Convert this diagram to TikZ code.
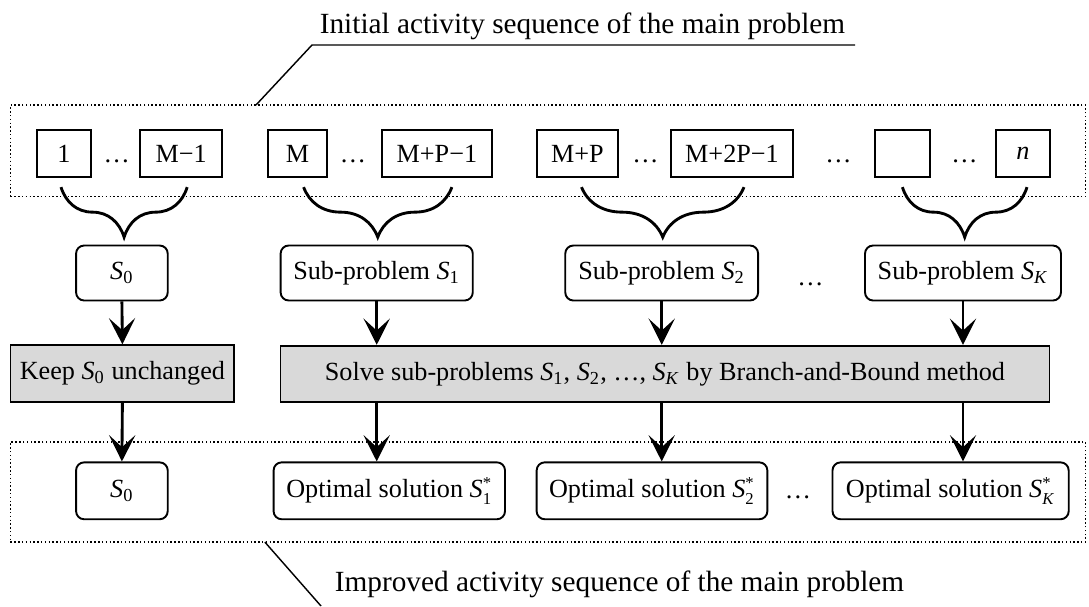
\documentclass[tikz,border=0pt]{standalone}
\usepackage{fontspec}
\setmainfont{Liberation Serif}
\usepackage{tikz}
\usetikzlibrary{arrows.meta,decorations.pathreplacing,calc}

\definecolor{boxgray}{RGB}{217,217,217}
\newcommand{\Ss}[1]{\textit{S}\textsubscript{#1}}
\newcommand{\So}[1]{\textit{S}$^{\mbox{\scriptsize *}}_{\mbox{\scriptsize #1}}$}

\begin{document}
\begin{tikzpicture}[x=0.42pt, y=-0.42pt, font=\fontsize{11}{13}\selectfont,
	cell/.style={draw, line width=0.8pt, minimum height=19.9pt, inner sep=1pt},
	sub/.style={draw, line width=0.8pt, rounded corners=3.4pt, minimum height=23.1pt, inner sep=2pt},
	opt/.style={sub, minimum height=23.9pt},
	task/.style={draw, line width=0.8pt, fill=boxgray, minimum height=23.7pt, inner sep=2pt},
	seq/.style={draw, densely dotted, line width=0.6pt, inner sep=0pt},
	flow/.style={-{Stealth[length=11pt,width=11pt,inset=5pt]}, line width=1.2pt},
	grp/.style={decorate, decoration={brace,mirror,amplitude=21pt}, line width=1.2pt},
	lead/.style={line width=0.6pt},
	caption/.style={font=\fontsize{12.3}{14}\selectfont, anchor=base}]

	\useasboundingbox (0,0) rectangle (1089,606);

	% dotted sequences
	\node[seq, minimum width=451.5pt, minimum height=38.4pt] (initseq) at (548,150.7) {};
	\node[seq, minimum width=451.5pt, minimum height=42pt] (impseq) at (548,492) {};

	% activities
	\node[cell, minimum width=22.8pt] (c1) at (64,153.5) {1};
	\node[cell, minimum width=34.3pt] (cM1) at (181.2,153.5) {M−1};
	\node[cell, minimum width=24.6pt] (cM) at (297.6,153.5) {M};
	\node[cell, minimum width=46.4pt] (cMP1) at (436.9,153.5) {M+P−1};
	\node[cell, minimum width=34pt] (cMP) at (577.5,153.5) {M+P};
	\node[cell, minimum width=51.2pt] (cM2P1) at (732,153.5) {M+2P−1};
	\node[cell, minimum width=22.9pt] (cE) at (902.4,153.5) {};
	\node[cell, minimum width=22.8pt] (cn) at (1023,153.5) {\textit{n}};

	\node[anchor=base] (d1) at (116.6,162) {\dots};
	\node[anchor=base] (d2) at (353,162) {\dots};
	\node[anchor=base] (d3) at (645.5,162) {\dots};
	\node[anchor=base] (d4) at (838.5,162) {\dots};
	\node[anchor=base] (d5) at (964.5,162) {\dots};

	% braces
	\draw[grp] ($(c1.south)+(-3,9)$) -- ($(cM1.south)+(6,9)$);
	\draw[grp] ($(cM.south)+(6,9)$) -- ($(cMP1.south)+(15,9)$);
	\draw[grp] ($(cMP.south)+(4,9)$) -- ($(cM2P1.south)+(12,9)$);
	\draw[grp] ($(cE.south)+(0,9)$) -- ($(cn.south)+(4,9)$);

	% sub-problems
	\node[sub, minimum width=38.5pt] (r0) at (121.9,273) {\Ss{0}};
	\node[sub, minimum width=80.7pt] (r1) at (376.7,273) {Sub-problem \Ss{1}};
	\node[sub, minimum width=81pt] (r2) at (661.7,273) {Sub-problem \Ss{2}};
	\node[sub, minimum width=82.3pt] (rK) at (963,273) {Sub-problem \Ss{\textit{K}}};
	\node[anchor=base] (d6) at (810.5,285) {\dots};

	% tasks
	\node[task, minimum width=94pt] (keep) at (122.4,373.5) {Keep \Ss{0} unchanged};
	\node[task, minimum width=323pt] (solve) at (665,374) {Solve sub-problems \Ss{1}, \Ss{2}, \dots, \Ss{\textit{K}} by Branch-and-Bound method};

	% solutions
	\node[opt, minimum width=38.5pt] (o0) at (121.9,490.8) {\Ss{0}};
	\node[opt, minimum width=97.2pt] (o1) at (389.3,490.8) {Optimal solution \So{1}};
	\node[opt, minimum width=96.9pt] (o2) at (652,490.8) {Optimal solution \So{2}};
	\node[opt, minimum width=99.2pt] (oK) at (950.6,490.8) {Optimal solution \So{\textit{K}}};
	\node[anchor=base] (d7) at (798,498) {\dots};

	% arrows
	\draw[flow] (r0.south) -- (keep.north);
	\draw[flow] (r1.south) -- (r1.south |- solve.north);
	\draw[flow] (r2.south) -- (r2.south |- solve.north);
	\draw[flow] (rK.south) -- (rK.south |- solve.north);
	\draw[flow] (keep.south) -- (o0.north);
	\draw[flow] (r1.south |- solve.south) -- (r1.south |- o1.north);
	\draw[flow] (r2.south |- solve.south) -- (r2.south |- o2.north);
	\draw[flow] (rK.south |- solve.south) -- (rK.south |- oK.north);

	% captions
	\node[caption] (tinit) at (582.5,33.3) {Initial activity sequence of the main problem};
	\node[caption] (timp) at (619.5,591.7) {Improved activity sequence of the main problem};
	\coordinate (a1) at (256,105);
	\coordinate (a2) at (312,45);
	\coordinate (a3) at (855,45);
	\coordinate (b1) at (264.8,542);
	\coordinate (b2) at (321,606);
	\draw[lead] (a1) -- (a2) -- (a3);
	\draw[lead] (b1) -- (b2);
\end{tikzpicture}
\end{document}
